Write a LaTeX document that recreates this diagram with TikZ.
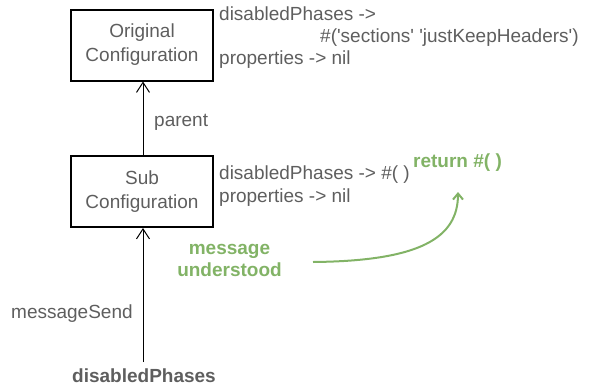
\documentclass[tikz,border=0pt]{standalone}
\usepackage{fontspec}
\setmainfont[Ligatures=NoCommon]{Liberation Sans}
\usetikzlibrary{arrows.meta}
\definecolor{txt}{HTML}{5E5E5E}
\definecolor{grn}{HTML}{82B366}
\newcommand{\sq}{\textquotesingle}
\begin{document}
\begin{tikzpicture}[x=1pt,y=-1pt,
  box/.style={draw=black,line width=2pt,minimum width=142pt,minimum height=71pt,inner sep=0pt,align=center,font=\fontsize{19}{24}\selectfont,text=txt},
  lbl/.style={anchor=base west,inner sep=0pt,font=\fontsize{19}{22}\selectfont,text=txt},
  grnlbl/.style={inner sep=0pt,font=\fontsize{19}{22}\selectfont\bfseries,text=grn},
  conn/.style={line width=1pt,-{Straight Barb[length=10pt,width=13pt,line width=1pt]}},
  gconn/.style={draw=grn,line width=2pt,-{Straight Barb[length=6pt,width=10pt,line width=2pt]}}]
\useasboundingbox (0,0) rectangle (589,386);
% boxes
\node[box] (orig) at (142,45) {Original\\Configuration};
\node[box] (sub) at (142,191.5) {Sub\\Configuration};
% state texts
\node[lbl] (o1) at (219,20) {disabledPhases ->};
\node[lbl] (o2) at (320,42) {\#(\sq sections\sq\ \sq justKeepHeaders\sq)};
\node[lbl] (o3) at (219,64) {properties -> nil};
\node[lbl] (s1) at (219,179) {disabledPhases -> \#( )};
\node[lbl] (s2) at (219,202) {properties -> nil};
\node[lbl,font=\fontsize{19}{22}\selectfont\bfseries,text=grn] (ret) at (413,167) {return \#( )};
% labels
\node[lbl] (par) at (154,126) {parent};
\node[lbl] (ms) at (11,318) {messageSend};
\node[lbl,anchor=base,font=\fontsize{19}{22}\selectfont\bfseries] (dp) at (144,382) {disabledPhases};
\node[grnlbl,align=center] (mu) at (229.5,260) {message\\understood};
% connectors
\coordinate (send) at (143,362);
\draw[conn] (sub.north -| 143,0) -- (orig.south -| 143,0);
\draw[conn] (send) -- (sub.south -| send);
\coordinate (cs) at (313,262);
\coordinate (ce) at (458,192);
\draw[gconn] (cs) .. controls (420,261) and (458,238) .. (ce);
\end{tikzpicture}
\end{document}
